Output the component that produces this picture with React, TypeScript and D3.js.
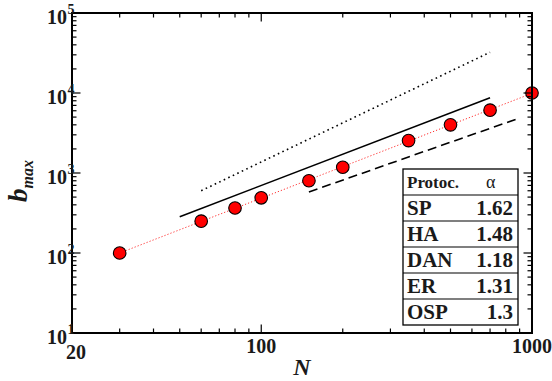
import React from "react";
import * as d3 from "d3";

const sizesN = [30, 60, 80, 100, 150, 200, 350, 500, 700, 1000];
const bmaxValues = [100, 250, 365, 490, 800, 1180, 2540, 4000, 6100, 10000];
const fitLine: [number, number][] = [[30, 100], [1000, 9900]];
const solidGuide: [number, number][] = [[50, 284], [700, 8730]];
const dottedGuide: [number, number][] = [[60, 600], [700, 32300]];
const dashedGuide: [number, number][] = [[150, 580], [900, 4870]];
const protocols = ["SP", "HA", "DAN", "ER", "OSP"];
const alphas = ["1.62", "1.48", "1.18", "1.31", "1.3"];
const xTickLabels = [20, 100, 1000];
const yExponents = [1, 2, 3, 4, 5];

const W = 552, H = 381;
const L = 72, R = 532, T = 13, B = 333;
const FONT = '"Liberation Serif", "Times New Roman", Tinos, "DejaVu Serif", serif';

export default function App() {
  const x = d3.scaleLog().domain([20, 1000]).range([L, R]);
  const y = d3.scaleLog().domain([10, 1e5]).range([B, T]);
  const line = d3.line<[number, number]>().x(d => x(d[0])).y(d => y(d[1]));

  const xMinor: number[] = [];
  [10, 100].forEach(dec => { for (let k = 1; k <= 9; k++) { const v = dec * k; if (v > 20 && v < 1000 && v !== 100) xMinor.push(v); } });
  const xMajor = [100];
  const yMinor: number[] = [];
  [10, 100, 1000, 10000].forEach(dec => { for (let k = 2; k <= 9; k++) yMinor.push(dec * k); });
  const yMajor = [100, 1000, 10000];

  const legendX0 = 403, legendX1 = 518, legendY0 = 169, rowH = 26;
  const ts = { fontFamily: FONT } as React.CSSProperties;

  return (
    <svg width={W} height={H} style={{ position: "absolute", left: 0, top: 0, background: "#fff", fontFamily: FONT }}>
      <rect x={0} y={0} width={W} height={H} fill="#fff" />
      {/* guide lines */}
      <path d={line(dottedGuide) || ""} fill="none" stroke="#000" strokeWidth={1.6} strokeDasharray="1.6,3.4" />
      <path d={line(solidGuide) || ""} fill="none" stroke="#000" strokeWidth={1.6} />
      <path d={line(dashedGuide) || ""} fill="none" stroke="#000" strokeWidth={1.6} strokeDasharray="9,5" />
      <path d={line(fitLine) || ""} fill="none" stroke="#ff3030" strokeWidth={1} strokeDasharray="1.2,2" />
      {/* points */}
      {sizesN.map((n, i) => (
        <circle key={i} cx={x(n)} cy={y(bmaxValues[i])} r={6.3} fill="#ff0000" stroke="#000" strokeWidth={1.1} />
      ))}
      {/* legend table */}
      <g>
        <rect x={legendX0} y={legendY0} width={legendX1 - legendX0} height={rowH * 6} fill="#fff" stroke="#000" strokeWidth={1.3} />
        {d3.range(1, 6).map(i => (
          <line key={i} x1={legendX0} x2={legendX1} y1={legendY0 + rowH * i} y2={legendY0 + rowH * i} stroke="#000" strokeWidth={1.1} />
        ))}
        <text style={ts} x={legendX0 + 4} y={legendY0 + rowH - 7} fontSize={17} fontWeight="bold" fill="#1a1a1a">Protoc.</text>
        <text style={ts} x={legendX0 + 83} y={legendY0 + rowH - 7} fontSize={18} fill="#1a1a1a">α</text>
        {protocols.map((p, i) => (
          <g key={p}>
            <text style={ts} x={legendX0 + 4} y={legendY0 + rowH * (i + 2) - 6} fontSize={21} fontWeight="bold" fill="#1a1a1a">{p}</text>
            <text style={ts} x={legendX1 - 5} y={legendY0 + rowH * (i + 2) - 6} fontSize={21} fontWeight="bold" fill="#1a1a1a" textAnchor="end">{alphas[i]}</text>
          </g>
        ))}
      </g>
      {/* ticks */}
      <g stroke="#000" strokeWidth={1.2}>
        {xMinor.map(v => (
          <g key={"xm" + v}>
            <line x1={x(v)} x2={x(v)} y1={B} y2={B - 4.5} />
            <line x1={x(v)} x2={x(v)} y1={T} y2={T + 4.5} />
          </g>
        ))}
        {xMajor.map(v => (
          <g key={"xM" + v}>
            <line x1={x(v)} x2={x(v)} y1={B} y2={B - 8.5} />
            <line x1={x(v)} x2={x(v)} y1={T} y2={T + 8.5} />
          </g>
        ))}
        {yMinor.map(v => (
          <g key={"ym" + v}>
            <line x1={L} x2={L + 4.5} y1={y(v)} y2={y(v)} />
            <line x1={R} x2={R - 4.5} y1={y(v)} y2={y(v)} />
          </g>
        ))}
        {yMajor.map(v => (
          <g key={"yM" + v}>
            <line x1={L} x2={L + 8.5} y1={y(v)} y2={y(v)} />
            <line x1={R} x2={R - 8.5} y1={y(v)} y2={y(v)} />
          </g>
        ))}
      </g>
      {/* frame */}
      <rect x={L} y={T} width={R - L} height={B - T} fill="none" stroke="#000" strokeWidth={2} />
      {/* y labels */}
      {yExponents.map(e => (
        <g key={"yl" + e} fill="#1a1a1a" fontWeight="bold">
          <text style={ts} x={67} y={y(Math.pow(10, e)) + 11} fontSize={20} textAnchor="end">10</text>
          <text style={ts} x={67.5} y={y(Math.pow(10, e)) + 1} fontSize={14}>{e}</text>
        </g>
      ))}
      {/* x labels */}
      {xTickLabels.map(v => (
        <text style={ts} key={"xl" + v} x={v === 20 ? 76 : x(v)} y={v === 20 ? 359 : 353} fontSize={20} fontWeight="bold" textAnchor="middle" fill="#1a1a1a">{v}</text>
      ))}
      <text style={ts} x={302} y={375} fontSize={24} fontWeight="bold" fontStyle="italic" textAnchor="middle" fill="#1a1a1a">N</text>
      <g transform="translate(27,202) rotate(-90)">
        <text style={ts} x={0} y={0} fontSize={27} fontWeight="bold" fontStyle="italic" fill="#1a1a1a">
          b<tspan fontSize={16} dy={6}>max</tspan>
        </text>
      </g>
    </svg>
  );
}
